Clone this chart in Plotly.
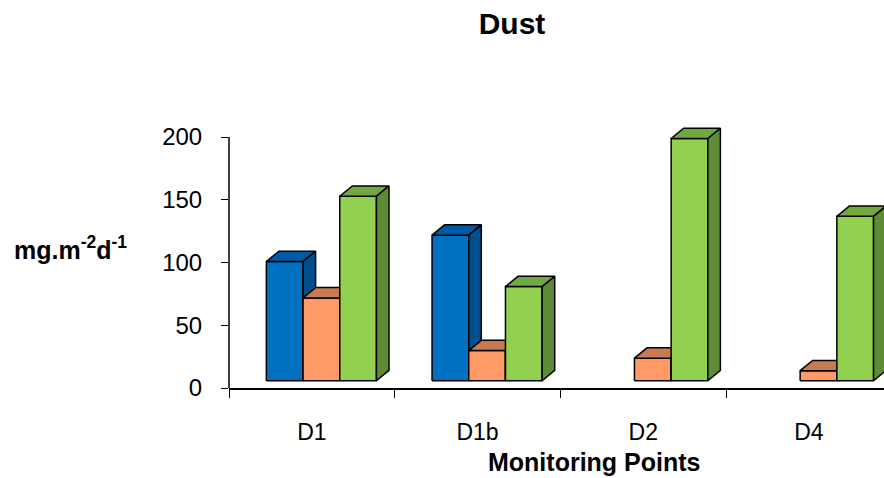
import plotly.graph_objects as go

# Monitoring points and dust deposition (mg.m-2 d-1) for three campaigns
points = ["D1", "D1b", "D2", "D4"]
series_a = [95, 116, None, None]
series_b = [66, 24, 18, 8]
series_c = [147, 75, 193, 131]
y_ticks = [0, 50, 100, 150, 200]

# Face colours (front, top, side) for each series
styles = [
    (series_a, "#0070C0", "#0059A3", "#004F8E"),
    (series_b, "#FF9966", "#C87A50", "#B86A42"),
    (series_c, "#92D050", "#72A840", "#5F8B34"),
]

# Pseudo-3D geometry in axis units
BAR_W = 0.2215          # bar width (category units)
OFFSETS = [-0.2746, -0.0531, 0.1684]   # left edge of each series' bar
DX = 0.0757             # depth shift to the right
DY = 8.2                # depth shift upwards (value units)
LIFT = 5.8              # floor lift of the bar fronts

fig = go.Figure()


def add_face(xs, ys, color):
    fig.add_trace(go.Scatter(
        x=xs, y=ys, mode="lines", fill="toself", fillcolor=color,
        line=dict(color="black", width=1.5), hoverinfo="skip",
        showlegend=False,
    ))


for (values, c_front, c_top, c_side), off in zip(styles, OFFSETS):
    fx, fy, tx, ty, sx, sy = [], [], [], [], [], []
    for i, v in enumerate(values):
        if v is None:
            continue
        x0 = i + off
        x1 = x0 + BAR_W
        b = LIFT
        t = LIFT + v
        fx += [x0, x1, x1, x0, x0, None]
        fy += [b, b, t, t, b, None]
        tx += [x0, x1, x1 + DX, x0 + DX, x0, None]
        ty += [t, t, t + DY, t + DY, t, None]
        sx += [x1, x1 + DX, x1 + DX, x1, x1, None]
        sy += [b, b + DY, t + DY, t, b, None]
    add_face(fx, fy, c_front)
    add_face(tx, ty, c_top)
    add_face(sx, sy, c_side)

FONT = "Liberation Sans, Arial, sans-serif"

# Value axis line spanning the labelled range only
fig.add_shape(type="line", xref="paper", yref="y", x0=0, x1=0,
              y0=y_ticks[0], y1=y_ticks[-1],
              line=dict(color="black", width=1.5))

fig.update_layout(
    width=884, height=478,
    margin=dict(l=229, r=0, t=100, b=90),
    paper_bgcolor="white", plot_bgcolor="white",
    showlegend=False,
    font=dict(family=FONT, color="black"),
    title=dict(text="<b>Dust</b>", x=512 / 884, xanchor="center",
               y=1 - 23 / 478, yanchor="middle",
               font=dict(size=30, family=FONT, color="black")),
    xaxis=dict(
        range=[-0.5, -0.5 + 655 / 165.7],
        tickmode="array", tickvals=list(range(len(points))), ticktext=points,
        ticks="", showgrid=False, zeroline=False,
        showline=True, linecolor="black", linewidth=1.5,
        tickfont=dict(size=23, family=FONT, color="black"),
        ticklabelstandoff=23,
        minor=dict(tickmode="array",
                   tickvals=[k - 0.5 for k in range(len(points))],
                   ticks="outside", ticklen=8, tickcolor="black", tickwidth=1.2),
        automargin=False, fixedrange=True,
    ),
    yaxis=dict(
        range=[0, 288 / 1.255],
        tickmode="array", tickvals=y_ticks,
        ticks="outside", ticklen=7, tickcolor="black", tickwidth=1.2,
        showgrid=False, zeroline=False, showline=False,
        tickfont=dict(size=24, family=FONT, color="black"),
        ticklabelstandoff=14,
        automargin=False, fixedrange=True,
    ),
    annotations=[
        dict(text="<b>mg.m<sup>-2</sup>d<sup>-1</sup></b>", xref="paper", yref="paper",
             x=(12 - 229) / 655, y=(388 - 248) / 288, xanchor="left", yanchor="middle",
             showarrow=False, font=dict(size=25, family=FONT, color="black")),
        dict(text="<b>Monitoring Points</b>", xref="paper", yref="paper",
             x=(594 - 229) / 655, y=(388 - 462) / 288, xanchor="center", yanchor="middle",
             showarrow=False, font=dict(size=25, family=FONT, color="black")),
    ],
)

fig.write_html("out.html")
